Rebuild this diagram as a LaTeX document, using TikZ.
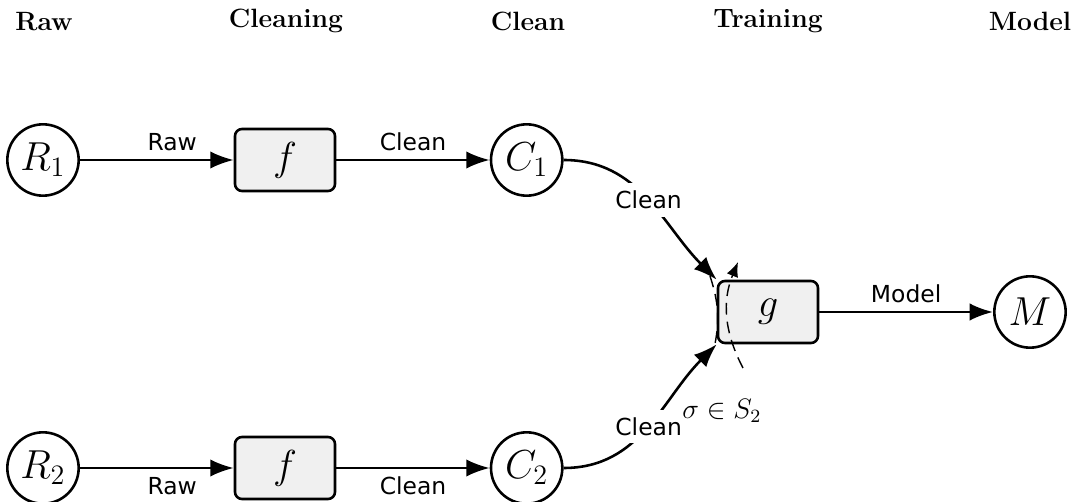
\documentclass[tikz,border=0pt]{standalone}
\usepackage{amsmath, amssymb}
\usepackage{fontspec}
\newfontfamily\nhanfont{DejaVu Sans}
\usepackage{tikz}
\usetikzlibrary{arrows.meta, calc, positioning}

\begin{document}
\begin{tikzpicture}[>={Latex[length=3.5mm, width=2.6mm]},
    trangthai/.style={draw, line width=1.1pt, circle, minimum size=1.07cm, inner sep=0pt, font=\LARGE},
    hamso/.style={draw, line width=1.1pt, rounded corners=3pt, fill=gray!12, minimum width=1.5cm, minimum height=0.93cm, font=\LARGE},
    canh/.style={->, line width=1.1pt},
    nhan/.style={font=\nhanfont},
    tieude/.style={font=\fontsize{11.3}{13}\selectfont\bfseries}]
    \useasboundingbox (0,0) rectangle (16.125,7.53);

    % Tiêu đề các cột
    \node[tieude] (tdRaw) at (0.66,7.21) {Raw};
    \node[tieude] (tdCleaning) at (4.29,7.21) {Cleaning};
    \node[tieude] (tdClean) at (7.92,7.21) {Clean};
    \node[tieude] (tdTraining) at (11.52,7.21) {Training};
    \node[tieude] (tdModel) at (15.45,7.21) {Model};

    % Các nút
    \node[trangthai] (R1) at (0.645,5.13) {$R_1$};
    \node[hamso] (f1) at (4.275,5.13) {$f$};
    \node[trangthai] (C1) at (7.9,5.13) {$C_1$};
    \node[trangthai] (R2) at (0.645,0.51) {$R_2$};
    \node[hamso] (f2) at (4.275,0.51) {$f$};
    \node[trangthai] (C2) at (7.9,0.51) {$C_2$};
    \node[hamso] (g) at (11.52,2.85) {$g$};
    \node[trangthai] (M) at (15.45,2.85) {$M$};

    % Các cạnh
    \draw[canh] (R1) -- node[nhan, above, pos=0.6] (eR1) {Raw} (f1);
    \draw[canh] (f1) -- node[nhan, above] (eF1) {Clean} (C1);
    \draw[canh] (R2) -- node[nhan, below, pos=0.6] (eR2) {Raw} (f2);
    \draw[canh] (f2) -- node[nhan, below] (eF2) {Clean} (C2);
    \draw[canh] (C1) to[out=0, in=135] node[nhan, fill=white] (eC1) {Clean} (g.north west);
    \draw[canh] (C2) to[out=0, in=-135] node[nhan, fill=white] (eC2) {Clean} (g.south west);
    \draw[canh] (g) -- node[nhan, above] (eG) {Model} (M);

    % Hoán vị
    \coordinate (s1) at ($(g)+(-0.87,0.54)$);
    \coordinate (s2) at ($(g)+(-0.81,-0.555)$);
    \coordinate (s3) at ($(g)+(-0.375,-0.84)$);
    \coordinate (s4) at ($(g)+(-0.45,0.75)$);
    \draw[semithick, dash pattern=on 5pt off 3pt] (s1) to[bend left=15] (s2);
    \draw[semithick, dash pattern=on 5pt off 3pt, -{Latex[length=2.2mm, width=1.8mm]}] (s3) to[bend left=25] (s4);
    \node[font=\large] (sigma) at ($(g)+(-0.69,-1.485)$) {$\sigma \in S_2$};
\end{tikzpicture}
\end{document}
